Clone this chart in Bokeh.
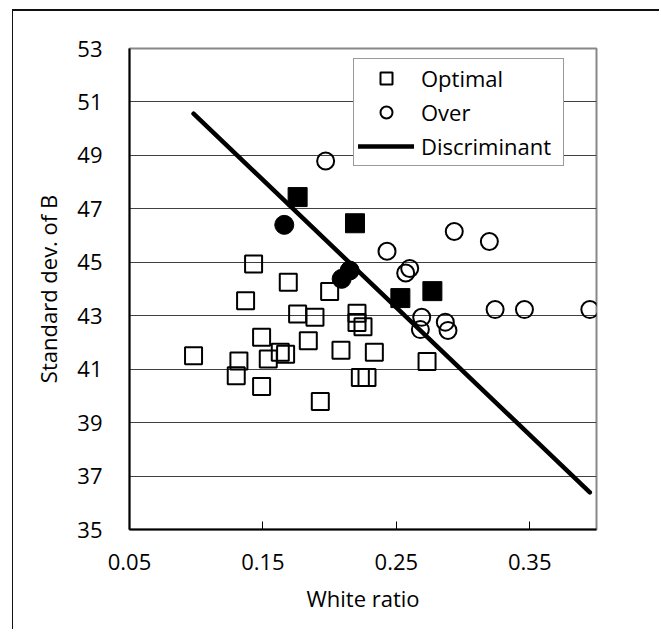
from bokeh.plotting import figure
from bokeh.layouts import column
from bokeh.models import Range1d, FixedTicker, Legend, LegendItem, Div
from bokeh.embed import file_html
from bokeh.resources import INLINE

# Optimal (open squares)
opt_x = [0.098, 0.130, 0.132, 0.137, 0.143, 0.149, 0.149, 0.154, 0.163, 0.167, 0.169, 0.176,
         0.184, 0.189, 0.193, 0.200, 0.2085, 0.2205, 0.2205, 0.225, 0.223, 0.228, 0.2335, 0.273]
opt_y = [41.50, 40.75, 41.31, 43.56, 44.94, 42.19, 40.35, 41.38, 41.63, 41.56, 44.25, 43.06,
         42.06, 42.94, 39.79, 43.91, 41.71, 43.09, 42.75, 42.59, 40.69, 40.69, 41.63, 41.29]
# Optimal, misclassified (filled squares)
optm_x = [0.176, 0.219, 0.253, 0.277]
optm_y = [47.44, 46.46, 43.66, 43.92]
# Over (open circles)
over_x = [0.197, 0.243, 0.257, 0.260, 0.2934, 0.3197, 0.269, 0.268, 0.2867, 0.2887, 0.324, 0.346, 0.395]
over_y = [48.79, 45.41, 44.60, 44.77, 46.15, 45.78, 42.94, 42.48, 42.76, 42.45, 43.23, 43.23, 43.23]
# Over, misclassified (filled circles)
overm_x = [0.166, 0.209, 0.215]
overm_y = [46.40, 44.38, 44.69]
# Discriminant line
disc_x = [0.098, 0.395]
disc_y = [50.56, 36.39]

x_ticks = [0.05, 0.15, 0.25, 0.35]
y_ticks = [35, 37, 39, 41, 43, 45, 47, 49, 51, 53]

FONT = "Open Sans"

p = figure(width=646, height=618, output_backend="svg", toolbar_location=None,
           x_range=Range1d(0.05, 0.4), y_range=Range1d(35, 53),
           min_border_left=116, min_border_right=63, min_border_top=37, min_border_bottom=100)
p.styles = {"border-left": "1px solid #111"}

p.background_fill_color = "white"
p.border_fill_color = "white"
p.outline_line_color = "#888888"
p.outline_line_width = 2

p.xgrid.visible = False
p.ygrid.ticker = FixedTicker(ticks=y_ticks)
p.ygrid.grid_line_color = "#404040"
p.ygrid.grid_line_width = 1

xa = p.xaxis[0]
xa.ticker = FixedTicker(ticks=x_ticks)
xa.axis_line_color = "black"
xa.axis_line_width = 2
xa.major_tick_in = 8
xa.major_tick_out = 0
xa.major_tick_line_color = "black"
xa.major_tick_line_width = 1
xa.minor_tick_line_color = None
xa.major_label_standoff = 24
xa.major_label_text_font = FONT
xa.major_label_text_font_size = "22px"
xa.major_label_text_color = "black"
xa.axis_label = "White ratio"
xa.axis_label_text_font = FONT
xa.axis_label_text_font_size = "22px"
xa.axis_label_text_font_style = "normal"
xa.axis_label_text_color = "black"
xa.axis_label_standoff = 10

ya = p.yaxis[0]
ya.ticker = FixedTicker(ticks=y_ticks)
ya.axis_line_color = "black"
ya.axis_line_width = 2
ya.major_tick_in = 0
ya.major_tick_out = 0
ya.minor_tick_line_color = None
ya.major_label_standoff = 27
ya.major_label_text_font = FONT
ya.major_label_text_font_size = "22px"
ya.major_label_text_color = "black"
ya.axis_label = "Standard dev. of B"
ya.axis_label_text_font = FONT
ya.axis_label_text_font_size = "22px"
ya.axis_label_text_font_style = "normal"
ya.axis_label_text_color = "black"
ya.axis_label_standoff = 11

r_opt = p.scatter(opt_x, opt_y, marker="square", size=17, fill_color=None,
                  line_color="black", line_width=2)
r_optm = p.scatter(optm_x, optm_y, marker="square", size=19, fill_color="black",
                   line_color="black", line_width=1)
r_over = p.scatter(over_x, over_y, marker="circle", size=17, fill_color=None,
                   line_color="black", line_width=2)
r_overm = p.scatter(overm_x, overm_y, marker="circle", size=19, fill_color="black",
                    line_color="black", line_width=1)
r_disc = p.line(disc_x, disc_y, line_color="black", line_width=4.5, line_cap="round")

legend = Legend(items=[LegendItem(label="Optimal", renderers=[r_opt]),
                       LegendItem(label="Over", renderers=[r_over]),
                       LegendItem(label="Discriminant", renderers=[r_disc])],
                location=(224, 363))
legend.label_text_font = FONT
legend.label_text_font_size = "22px"
legend.label_text_color = "black"
legend.glyph_width = 56
legend.glyph_height = 30
legend.label_height = 30
legend.label_width = 138
legend.label_standoff = 7
legend.spacing = 4
legend.padding = 4
legend.margin = 0
legend.border_line_color = "#333333"
legend.border_line_width = 1
legend.background_fill_color = "white"
legend.background_fill_alpha = 1
p.add_layout(legend, "center")

# top edge of the outer chart-area frame
top_edge = Div(text="", width=647, height=2, margin=0,
               styles={"background-color": "#111111", "overflow": "hidden"})

lay = column(top_edge, p, spacing=0)
lay.styles = {"margin-left": "12px", "margin-top": "9px"}

open("out.html", "w").write(file_html(lay, INLINE))
